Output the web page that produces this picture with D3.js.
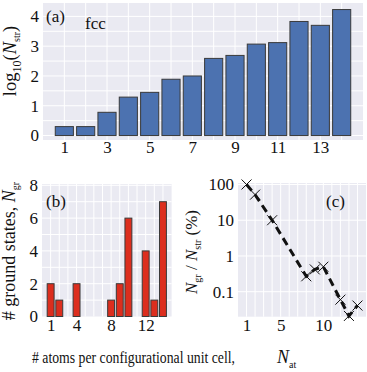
<!DOCTYPE html>
<html><head><meta charset="utf-8">
<script src="https://cdn.jsdelivr.net/npm/d3@7"></script>
<style>
body{margin:0;background:#fff;}
svg text{font-family:"Liberation Serif","Times New Roman",serif;fill:#111;}
</style></head>
<body><svg id="c" width="367" height="372"></svg>
<script>
// Panel (a): log10 of number of structures vs atoms per cell
const atomsA = [1,2,3,4,5,6,7,8,9,10,11,12,13,14];
const log10Nstr = [0.30,0.30,0.78,1.29,1.45,1.89,2.00,2.59,2.69,3.07,3.12,3.83,3.70,4.23];
const ticksAx = [1,3,5,7,9,11,13];
const ticksAy = [0,1,2,3,4];
// Panel (b): number of ground states
const atomsB = [1,2,4,8,9,10,12,13,14];
const nGround = [2,1,2,1,2,6,4,1,7];
const ticksBx = [1,4,8,12];
const ticksBy = [0,2,4,6,8];
// Panel (c): ratio in percent
const ratioPct = [100,52,10,0.27,0.42,0.5,0.06,0.021,0.041];
const ticksCx = [1,5,10];
const ticksCy = [0.1,1,10,100];
const ticksCyLabels = ["0.1","1","10","100"];

const svg = d3.select("#c");
const BG = "#eaeaf2";
const SERIF = "Liberation Serif";

function panel(x0,x1,y0,y1){
  svg.append("rect").attr("x",x0).attr("y",y0).attr("width",x1-x0).attr("height",y1-y0).attr("fill",BG);
}
function vgrid(xs, vals, y0,y1){
  svg.append("g").selectAll("line").data(vals).join("line")
    .attr("x1",d=>xs(d)).attr("x2",d=>xs(d)).attr("y1",y0).attr("y2",y1)
    .attr("stroke","#fff").attr("stroke-width",1);
}
function hgrid(ys, vals, x0,x1){
  svg.append("g").selectAll("line").data(vals).join("line")
    .attr("y1",d=>ys(d)).attr("y2",d=>ys(d)).attr("x1",x0).attr("x2",x1)
    .attr("stroke","#fff").attr("stroke-width",1);
}
function styleAxis(g, fs){
  g.attr("font-family",SERIF).attr("font-size",fs);
  g.select(".domain").remove();
  g.selectAll(".tick line").remove();
  g.selectAll("text").attr("font-size",fs).attr("font-family",SERIF).attr("fill","#111");
}
const fmtD = d3.format("d");

// ---------- Panel (a)
const ax = d3.scaleLinear().domain([0,15]).range([43,363]);
const ay = d3.scaleLinear().domain([-0.15,4.45]).range([140,3]);
panel(43,363,3,140);
vgrid(ax, d3.range(1,15), 3,140);
hgrid(ay, d3.range(0,4.01,0.5), 43,363);
svg.append("g").selectAll("rect").data(atomsA).join("rect")
  .attr("x",(d)=>ax(d-0.425)).attr("width",ax(0.85)-ax(0))
  .attr("y",(d,i)=>ay(log10Nstr[i])).attr("height",(d,i)=>ay(0)-ay(log10Nstr[i]))
  .attr("fill","#4c72b0").attr("stroke","#3a3a3a").attr("stroke-width",1);
styleAxis(svg.append("g").attr("transform","translate(0,137)")
  .call(d3.axisBottom(ax).tickValues(ticksAx).tickFormat(fmtD).tickSize(0).tickPadding(4)), 17);
styleAxis(svg.append("g").attr("transform","translate(39,0)")
  .call(d3.axisLeft(ay).tickValues(ticksAy).tickFormat(fmtD).tickSize(0).tickPadding(0)), 17);
svg.append("text").attr("x",46).attr("y",22).attr("font-size","17px").text("(a)");
svg.append("text").attr("x",85).attr("y",29).attr("font-size","17px").text("fcc");
{
  const t = svg.append("text").attr("transform","translate(16,61) rotate(-90)")
    .attr("text-anchor","middle").attr("font-size","18.5px");
  t.append("tspan").text("log");
  t.append("tspan").attr("font-size","12px").attr("dy",5).text("10");
  t.append("tspan").attr("dy",-5).text("(");
  t.append("tspan").attr("font-style","italic").text("N");
  t.append("tspan").attr("font-size","10px").attr("dy",4).text("str");
  t.append("tspan").attr("dy",-4).text(")");
}

// ---------- Panel (b)
const bx = d3.scaleLinear().domain([0,15]).range([42,171.6]);
const by = d3.scaleLinear().domain([0,8.08]).range([316.5,184]);
panel(42,171.6,184,316.5);
vgrid(bx, d3.range(1,15), 184,316.5);
hgrid(by, d3.range(1,9), 42,171.6);
svg.append("g").selectAll("rect").data(atomsB).join("rect")
  .attr("x",d=>bx(d-0.4)).attr("width",bx(0.8)-bx(0))
  .attr("y",(d,i)=>by(nGround[i])).attr("height",(d,i)=>by(0)-by(nGround[i]))
  .attr("fill","#dc2e1e").attr("stroke","#3a3a3a").attr("stroke-width",1);
styleAxis(svg.append("g").attr("transform","translate(0,316)")
  .call(d3.axisBottom(bx).tickValues(ticksBx).tickFormat(fmtD).tickSize(0).tickPadding(3)), 17);
styleAxis(svg.append("g").attr("transform","translate(38,0)")
  .call(d3.axisLeft(by).tickValues(ticksBy).tickFormat(fmtD).tickSize(0).tickPadding(0)), 17);
svg.append("text").attr("x",46).attr("y",207).attr("font-size","17px").text("(b)");
{
  const t = svg.append("text").attr("transform","translate(15,251) rotate(-90)")
    .attr("text-anchor","middle").attr("font-size","18px");
  t.append("tspan").text("# ground states, ");
  t.append("tspan").attr("font-style","italic").text("N");
  t.append("tspan").attr("font-size","10px").attr("dy",4).text("gr");
}

// ---------- Panel (c)
const cx = d3.scaleLinear().domain([0,15]).range([238,366]);
const cy = d3.scaleLog().domain([0.02,110]).range([316.7,183]);
panel(238,366,183,316.7);
vgrid(cx, d3.range(1,15), 183,316.7);
hgrid(cy, ticksCy, 238,366);
svg.append("path").datum(atomsB)
  .attr("d", d3.line().x(d=>cx(d)).y((d,i)=>cy(ratioPct[i])))
  .attr("fill","none").attr("stroke","#111").attr("stroke-width",3).attr("stroke-dasharray","8,5");
const ms = 5;
svg.append("g").selectAll("path").data(atomsB).join("path")
  .attr("d",(d,i)=>{const x=cx(d), y=cy(ratioPct[i]);
    return `M${x-ms},${y-ms}L${x+ms},${y+ms}M${x-ms},${y+ms}L${x+ms},${y-ms}`;})
  .attr("stroke","#111").attr("stroke-width",1).attr("fill","none");
styleAxis(svg.append("g").attr("transform","translate(0,316)")
  .call(d3.axisBottom(cx).tickValues(ticksCx).tickFormat(fmtD).tickSize(0).tickPadding(3)), 17);
styleAxis(svg.append("g").attr("transform","translate(234,0)")
  .call(d3.axisLeft(cy).tickValues(ticksCy).tickFormat((d,i)=>ticksCyLabels[i]).tickSize(0).tickPadding(0)), 17);
svg.append("text").attr("x",326).attr("y",207).attr("font-size","17px").text("(c)");
{
  const t = svg.append("text").attr("transform","translate(197,252) rotate(-90)")
    .attr("text-anchor","middle").attr("font-size","17px");
  t.append("tspan").attr("font-style","italic").text("N");
  t.append("tspan").attr("font-size","10px").attr("dy",4).text("gr");
  t.append("tspan").attr("dy",-4).text(" / ");
  t.append("tspan").attr("font-style","italic").text("N");
  t.append("tspan").attr("font-size","10px").attr("dy",4).text("str");
  t.append("tspan").attr("dy",-4).text(" (%)");
}

// ---------- Common x label
svg.append("text").attr("x",32).attr("y",363).attr("font-size","16.5px")
  .attr("textLength",203).attr("lengthAdjust","spacingAndGlyphs")
  .text("# atoms per configurational unit cell,");
{
  const t = svg.append("text").attr("x",277).attr("y",363).attr("font-size","18px");
  t.append("tspan").attr("font-style","italic").text("N");
  t.append("tspan").attr("font-size","10px").attr("dy",5).text("at");
}
</script></body></html>
